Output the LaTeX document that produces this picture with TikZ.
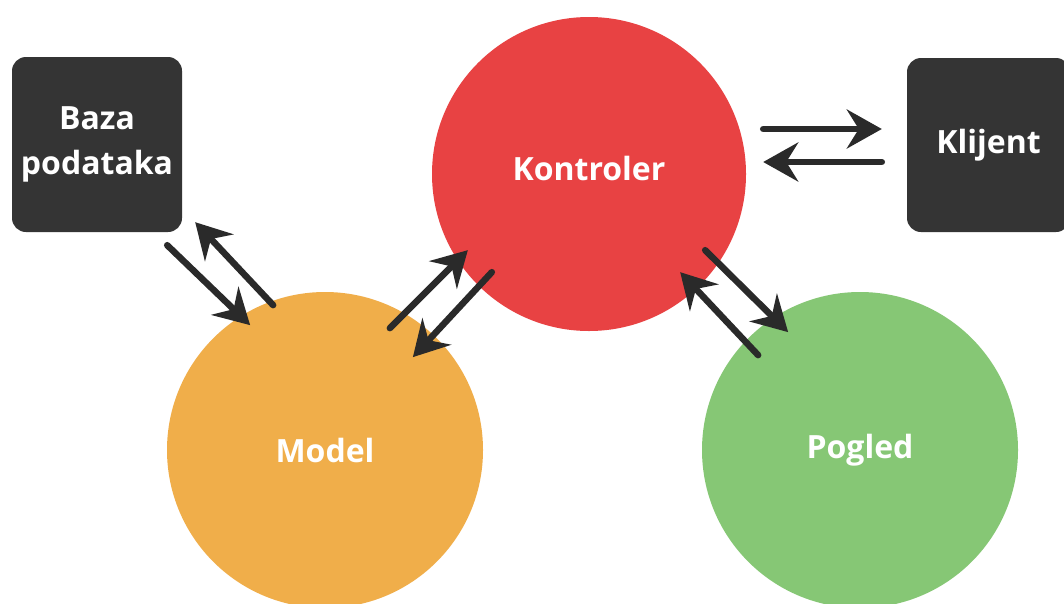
\documentclass[tikz,border=0pt]{standalone}
\usepackage{fontspec}
\setsansfont{Open Sans}
\usepackage{tikz}
\usetikzlibrary{positioning, arrows.meta, shapes.geometric}

\begin{document}
\begin{tikzpicture}[x=1pt, y=-1pt,
    label font/.style={font=\sffamily\bfseries\fontsize{32}{45}\selectfont, text=white, align=center},
    darkbox/.style={label font, rectangle, rounded corners=14pt, fill=boxcolor, inner sep=0pt},
    bigcircle/.style={label font, circle, inner sep=0pt, minimum size=316pt},
    flow/.style={draw=arrowcolor, line width=6.5pt, line cap=round,
        -{Stealth[length=35pt, width=39pt, inset=12pt]}}]

    % Define colors
    \definecolor{boxcolor}{RGB}{52, 52, 52}
    \definecolor{arrowcolor}{RGB}{42, 42, 42}
    \definecolor{controlcolor}{RGB}{232, 66, 67}
    \definecolor{modelcolor}{RGB}{240, 174, 74}
    \definecolor{viewcolor}{RGB}{134, 199, 117}

    % Canvas
    \fill[white] (0, 0) rectangle (1064, 603);
    \useasboundingbox (0, 0) rectangle (1064, 603);

    % Circles
    \node[bigcircle, fill=controlcolor, minimum size=314pt, text depth=11pt] (kontroler) at (589, 174) {Kontroler};
    \node[bigcircle, fill=modelcolor] (model) at (325, 450) {Model};
    \node[bigcircle, fill=viewcolor] (pogled) at (860, 450) {Pogled};

    % Boxes
    \node[darkbox, minimum width=170pt, minimum height=175pt] (baza) at (97, 144.5) {Baza\\podataka};
    \node[darkbox, minimum width=163pt, minimum height=174pt] (klijent) at (988.5, 145) {Klijent};

    % Baza <-> Model
    \draw[flow] ([shift={(-15, 13)}]baza.south east) -- ([shift={(37, -13)}]model.north west);
    \draw[flow] ([shift={(60, -33)}]model.north west) -- ([shift={(13, -10)}]baza.south east);

    % Model <-> Kontroler
    \draw[flow] ([shift={(-47, -10)}]model.north east) -- ([shift={(-10, -35)}]kontroler.south west);
    \draw[flow] ([shift={(14, -13)}]kontroler.south west) -- ([shift={(-24, 19)}]model.north east);

    % Kontroler <-> Pogled
    \draw[flow] ([shift={(5, -35)}]kontroler.south east) -- ([shift={(40, -6)}]pogled.north west);
    \draw[flow] ([shift={(10, 17)}]pogled.north west) -- ([shift={(-20, -13)}]kontroler.south east);

    % Kontroler <-> Klijent
    \draw[flow] ([shift={(17, -45)}]kontroler.east) -- ([shift={(-25, -16)}]klijent.west);
    \draw[flow] ([shift={(-25, 17)}]klijent.west) -- ([shift={(17, -12)}]kontroler.east);

\end{tikzpicture}
\end{document}
